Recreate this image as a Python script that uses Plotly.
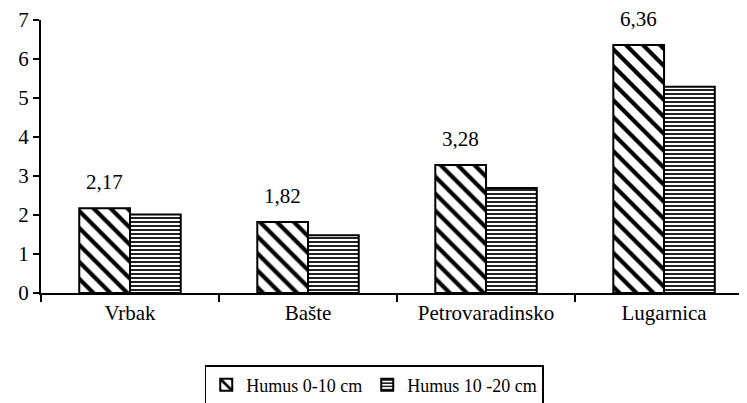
import plotly.graph_objects as go

categories = ["Vrbak", "Bašte", "Petrovaradinsko", "Lugarnica"]
humus_0_10 = [2.17, 1.82, 3.28, 6.36]
humus_10_20 = [2.01, 1.48, 2.69, 5.29]
labels_0_10 = ["2,17", "1,82", "3,28", "6,36"]
y_ticks = [0, 1, 2, 3, 4, 5, 6, 7]

FONT = "'Times New Roman', 'Liberation Serif', Times, serif"
FS = 21

fig = go.Figure()
fig.add_trace(go.Bar(
    x=categories, y=humus_0_10, name="Humus 0-10 cm",
    marker=dict(color="white", line=dict(color="black", width=2),
                pattern=dict(shape="\\", fgcolor="black", bgcolor="white",
                             size=12, solidity=0.35, fgopacity=1)),
))
fig.add_trace(go.Bar(
    x=categories, y=humus_10_20, name="Humus 10 -20 cm",
    marker=dict(color="white", line=dict(color="black", width=2),
                pattern=dict(shape="-", fgcolor="#222222", bgcolor="white",
                             size=4, solidity=0.5, fgopacity=1)),
))

for c, v, t in zip(categories, humus_0_10, labels_0_10):
    fig.add_annotation(x=c, y=v, text=t, showarrow=False, xshift=-25.5,
                       yshift=12, yanchor="bottom",
                       font=dict(family=FONT, size=FS, color="black"))

fig.update_layout(
    width=747, height=403,
    margin=dict(l=33, r=8, t=12, b=118, autoexpand=False),
    paper_bgcolor="white", plot_bgcolor="white",
    barmode="group", bargap=0.43, bargroupgap=0,
    font=dict(family=FONT, size=FS, color="black"),
    showlegend=True,
    legend=dict(orientation="h", x=0.472, xanchor="center", y=-0.264, yanchor="top",
                bordercolor="black", borderwidth=1.5, bgcolor="white",
                font=dict(family=FONT, size=18), itemwidth=30,
                tracegroupgap=0),
    xaxis=dict(range=[-0.5, 3.466], showline=True, linecolor="black", linewidth=2,
               ticks="outside", tickson="boundaries", ticklen=7, tickwidth=2,
               tickcolor="black", showgrid=False, zeroline=False,
               tickfont=dict(family=FONT, size=FS)),
    yaxis=dict(range=[0, 7], tickvals=y_ticks, showline=True, linecolor="black",
               linewidth=2, ticks="outside", ticklen=6, tickwidth=2,
               tickcolor="black", showgrid=False, zeroline=False,
               tickfont=dict(family=FONT, size=FS)),
)

fig.write_html("out.html")
